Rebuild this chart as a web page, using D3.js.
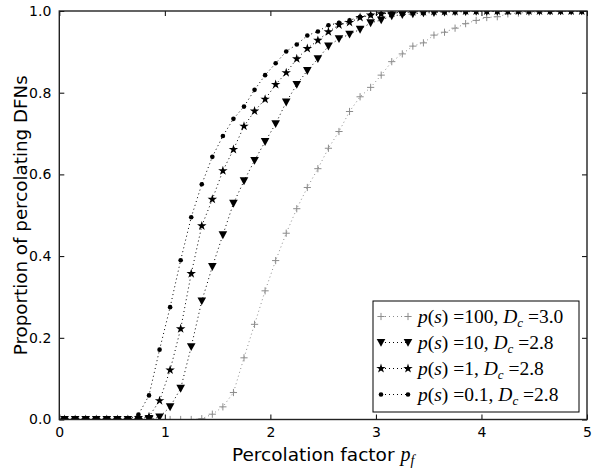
<!DOCTYPE html>
<html>

<head>
    <meta charset="utf-8">
    <title>Percolation</title>
    <style type="text/css">
        body {
            margin: 0;
            background: #fff;
        }
        text {
            font-family: "DejaVu Sans", sans-serif;
        }
        .math {
            font-family: "Liberation Serif", serif;
        }
    </style>
</head>

<body>
    <script src="https://cdn.jsdelivr.net/npm/d3@7"></script>
    <script>
        // percolation factor values (x)
        var pf = [0.05, 0.15, 0.25, 0.35, 0.45, 0.55, 0.65, 0.75, 0.85, 0.95,
            1.05, 1.15, 1.25, 1.35, 1.45, 1.55, 1.65, 1.75, 1.85, 1.95,
            2.05, 2.15, 2.25, 2.35, 2.45, 2.55, 2.65, 2.75, 2.85, 2.95,
            3.05, 3.15, 3.25, 3.35, 3.45, 3.55, 3.65, 3.75, 3.85, 3.95,
            4.05, 4.15, 4.25, 4.35, 4.45, 4.55, 4.65, 4.75, 4.85, 4.95];

        var ps100 = [0, 0, 0, 0, 0, 0, 0, 0, 0, 0,
            0, 0, 0, 0.002, 0.013, 0.031, 0.066, 0.151, 0.233, 0.315,
            0.389, 0.456, 0.516, 0.568, 0.614, 0.664, 0.705, 0.754, 0.79, 0.813,
            0.843, 0.876, 0.895, 0.914, 0.922, 0.941, 0.948, 0.958, 0.969, 0.977,
            0.984, 0.986, 0.993, 0.995, 0.997, 0.998, 0.999, 0.999, 1, 1];
        var ps10 = [0, 0, 0, 0, 0, 0, 0, 0, 0, 0.006,
            0.031, 0.076, 0.178, 0.29, 0.374, 0.452, 0.529, 0.584, 0.634, 0.68,
            0.724, 0.777, 0.82, 0.854, 0.883, 0.914, 0.932, 0.943, 0.955, 0.971,
            0.978, 0.988, 0.991, 0.993, 0.995, 0.996, 0.997, 0.998, 0.998, 0.999,
            0.999, 0.999, 1, 1, 1, 1, 1, 1, 1, 1];
        var ps1 = [0, 0, 0, 0, 0, 0, 0, 0, 0.007, 0.046,
            0.121, 0.222, 0.357, 0.474, 0.539, 0.609, 0.661, 0.718, 0.755, 0.784,
            0.82, 0.849, 0.883, 0.908, 0.928, 0.949, 0.966, 0.972, 0.984, 0.99,
            0.993, 0.995, 0.997, 0.998, 0.998, 0.999, 0.999, 0.999, 1, 1,
            1, 1, 1, 1, 1, 1, 1, 1, 1, 1];
        var ps01 = [0, 0, 0, 0, 0, 0, 0, 0.012, 0.059, 0.171,
            0.275, 0.39, 0.495, 0.576, 0.643, 0.694, 0.736, 0.766, 0.807, 0.843,
            0.872, 0.901, 0.918, 0.94, 0.95, 0.965, 0.971, 0.977, 0.986, 0.99,
            0.993, 0.995, 0.996, 0.997, 0.998, 0.998, 0.999, 0.999, 0.999, 1,
            1, 1, 1, 1, 1, 1, 1, 1, 1, 1];

        var xTicks = [0, 1, 2, 3, 4, 5];
        var yTicks = [0, 0.2, 0.4, 0.6, 0.8, 1.0];

        var series = [
            { ps: "100", dc: "3.0", values: ps100, marker: "plus", color: "#8c8c8c" },
            { ps: "10", dc: "2.8", values: ps10, marker: "tri", color: "#000" },
            { ps: "1", dc: "2.8", values: ps1, marker: "star", color: "#000" },
            { ps: "0.1", dc: "2.8", values: ps01, marker: "dot", color: "#000" }
        ];

        var width = 592,
            height = 473,
            margin = { left: 59.3, right: 5, top: 11, bottom: 53.5 };

        var x = d3.scaleLinear().domain([0, 5]).range([margin.left, width - margin.right]);
        var y = d3.scaleLinear().domain([0, 1]).range([height - margin.bottom, margin.top]);

        var svg = d3.select("body").append("svg")
            .attr("width", width)
            .attr("height", height);

        svg.append("clipPath").attr("id", "clip")
            .append("rect")
            .attr("x", x(0)).attr("y", y(1))
            .attr("width", x(5) - x(0)).attr("height", y(0) - y(1));

        var starPath = d3.symbol().type(d3.symbolStar).size(28)();
        function drawMarker(g, type, color) {
            if (type === "dot") {
                g.append("circle").attr("r", 2.3).attr("fill", color);
            } else if (type === "star") {
                g.append("path").attr("d", starPath).attr("fill", color);
            } else if (type === "tri") {
                g.append("path").attr("d", "M-4.3,-3.6L4.3,-3.6L0,4.3Z").attr("fill", color);
            } else {
                g.append("path").attr("d", "M-3.6,0H3.6M0,-3.6V3.6")
                    .attr("stroke", color).attr("stroke-width", 1).attr("fill", "none");
            }
        }

        var line = d3.line()
            .x(function (d) { return x(d[0]); })
            .y(function (d) { return y(d[1]); });

        var plot = svg.append("g").attr("clip-path", "url(#clip)");

        series.forEach(function (s) {
            var pts = pf.map(function (v, i) { return [v, s.values[i]]; });
            plot.append("path")
                .datum(pts)
                .attr("d", line)
                .attr("fill", "none")
                .attr("stroke", s.color)
                .attr("stroke-width", 1)
                .attr("stroke-dasharray", "1,3");
            plot.selectAll(null)
                .data(pts)
                .enter().append("g")
                .attr("transform", function (d) { return "translate(" + x(d[0]) + "," + y(d[1]) + ")"; })
                .each(function () { drawMarker(d3.select(this), s.marker, s.color); });
        });

        // axes with inward ticks on all four sides
        var tl = 5;
        svg.append("g")
            .attr("transform", "translate(0," + y(0) + ")")
            .call(d3.axisBottom(x).tickValues(xTicks).tickSizeInner(-tl).tickSizeOuter(0).tickPadding(8)
                .tickFormat(d3.format("d")));
        svg.append("g")
            .attr("transform", "translate(0," + y(1) + ")")
            .call(d3.axisTop(x).tickValues(xTicks).tickSizeInner(-tl).tickSizeOuter(0).tickFormat(""));
        svg.append("g")
            .attr("transform", "translate(" + x(0) + ",0)")
            .call(d3.axisLeft(y).tickValues(yTicks).tickSizeInner(-tl).tickSizeOuter(0).tickPadding(8)
                .tickFormat(d3.format(".1f")));
        svg.append("g")
            .attr("transform", "translate(" + x(5) + ",0)")
            .call(d3.axisRight(y).tickValues(yTicks).tickSizeInner(-tl).tickSizeOuter(0).tickFormat(""));

        svg.selectAll(".domain").remove();
        svg.selectAll(".tick line").attr("stroke", "#000");
        svg.selectAll(".tick text").attr("font-size", 14).attr("fill", "#000");

        svg.append("rect")
            .attr("x", x(0)).attr("y", y(1))
            .attr("width", x(5) - x(0)).attr("height", y(0) - y(1))
            .attr("fill", "none").attr("stroke", "#222").attr("stroke-width", 1.4);

        // axis labels
        var xl = svg.append("text")
            .attr("x", (x(0) + x(5)) / 2)
            .attr("y", 461)
            .attr("text-anchor", "middle")
            .attr("font-size", 18.5);
        xl.append("tspan").text("Percolation factor ");
        xl.append("tspan").attr("class", "math").attr("font-style", "italic").attr("font-size", 20).text("p");
        xl.append("tspan").attr("class", "math").attr("font-style", "italic").attr("font-size", 14).attr("dy", 4).text("f");

        svg.append("text")
            .attr("transform", "translate(27," + (y(0) + y(1)) / 2 + ") rotate(-90)")
            .attr("text-anchor", "middle")
            .attr("font-size", 18.3)
            .text("Proportion of percolating DFNs");

        // legend
        var lx = 373, ly = 301, lw = 206, lh = 111;
        var legend = svg.append("g");
        legend.append("rect")
            .attr("x", lx).attr("y", ly).attr("width", lw).attr("height", lh)
            .attr("fill", "#fff").attr("stroke", "#000").attr("stroke-width", 1);

        series.forEach(function (s, i) {
            var yy = ly + 15.5 + i * 26;
            legend.append("line")
                .attr("x1", lx + 8).attr("x2", lx + 35)
                .attr("y1", yy).attr("y2", yy)
                .attr("stroke", s.color).attr("stroke-width", 1).attr("stroke-dasharray", "1,3");
            [lx + 8, lx + 35].forEach(function (mx) {
                var g = legend.append("g").attr("transform", "translate(" + mx + "," + yy + ")");
                drawMarker(g, s.marker, s.color);
            });
            var t = legend.append("text")
                .attr("class", "math")
                .attr("x", lx + 45)
                .attr("y", yy + 6)
                .attr("font-size", 19.5);
            t.append("tspan").attr("font-style", "italic").text("p");
            t.append("tspan").text("(");
            t.append("tspan").attr("font-style", "italic").text("s");
            t.append("tspan").text(") =" + s.ps + ", ");
            t.append("tspan").attr("font-style", "italic").text("D");
            t.append("tspan").attr("font-style", "italic").attr("font-size", 13).attr("dy", 4).text("c");
            t.append("tspan").attr("dy", -4).text(" =" + s.dc);
        });
    </script>
</body>

</html>
